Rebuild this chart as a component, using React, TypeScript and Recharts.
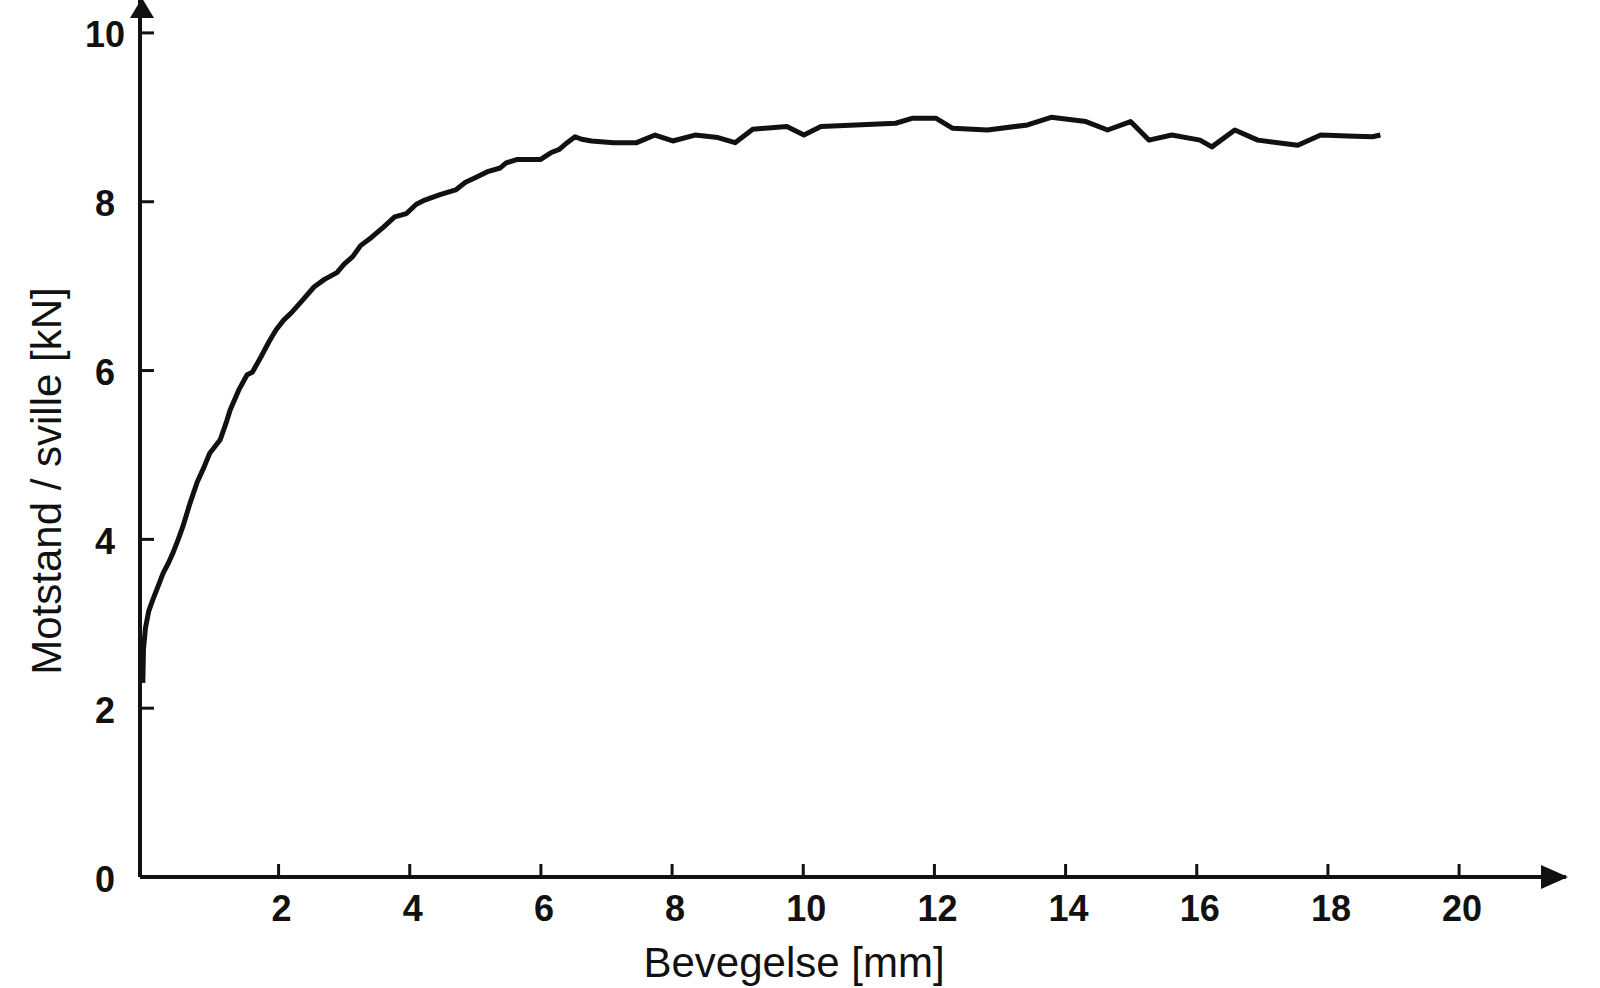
import React from "react";
import { LineChart, Line, XAxis, YAxis } from "recharts";

// Bevegelse [mm]
const displacement = [
  -0.07, -0.06, -0.03, 0.02, 0.08, 0.15, 0.24, 0.32, 0.39, 0.47, 0.54, 0.65, 0.76, 0.86, 0.95, 1.11, 1.2,
  1.26, 1.4, 1.52, 1.6, 1.73, 1.86, 1.96, 2.08, 2.19, 2.35, 2.54, 2.7, 2.89, 3.0, 3.13, 3.25,
  3.42, 3.6, 3.77, 3.95, 4.1, 4.23, 4.45, 4.7, 4.85, 4.99, 5.2, 5.38, 5.47, 5.63, 5.99, 6.15,
  6.28, 6.4, 6.52, 6.62, 6.77, 7.11, 7.46, 7.74, 8.01, 8.35, 8.7, 8.96, 9.23, 9.75, 10.01,
  10.27, 10.8, 11.41, 11.67, 12.02, 12.28, 12.81, 13.42, 13.78, 14.31, 14.64, 14.99, 15.27,
  15.62, 16.05, 16.23, 16.58, 16.93, 17.54, 17.89, 18.3, 18.68, 18.8,
];

// Motstand / sville [kN]
const resistance = [
  2.3, 2.7, 2.95, 3.15, 3.28, 3.42, 3.6, 3.72, 3.84, 4.0, 4.15, 4.43, 4.68, 4.85, 5.02, 5.18, 5.38,
  5.53, 5.78, 5.95, 5.98, 6.16, 6.35, 6.48, 6.6, 6.68, 6.82, 6.99, 7.08, 7.16, 7.26, 7.35, 7.48,
  7.58, 7.7, 7.82, 7.86, 7.97, 8.02, 8.08, 8.14, 8.23, 8.28, 8.36, 8.4, 8.46, 8.5, 8.5, 8.58,
  8.62, 8.7, 8.77, 8.74, 8.72, 8.7, 8.7, 8.79, 8.72, 8.79, 8.76, 8.7, 8.86, 8.89, 8.79,
  8.89, 8.91, 8.93, 8.99, 8.99, 8.87, 8.85, 8.91, 9.0, 8.95, 8.85, 8.95, 8.73,
  8.79, 8.73, 8.65, 8.85, 8.73, 8.67, 8.79, 8.78, 8.77, 8.79,
];

const xTicks = [2, 4, 6, 8, 10, 12, 14, 16, 18, 20];
const yTicks = [0, 2, 4, 6, 8, 10];

const data = displacement.map((x, i) => ({ x, y: resistance[i] }));

const INK = "#111";
const FONT = "'Liberation Sans', Arial, Helvetica, sans-serif";

function XTick({ x, y, payload }: any) {
  return (
    <g>
      <line x1={x} y1={y} x2={x} y2={y - 13} stroke={INK} strokeWidth={3} />
      <text
        x={x + 3}
        y={y + 31}
        textAnchor="middle"
        dominantBaseline="central"
        fontFamily={FONT}
        fontWeight="bold"
        fontSize={36}
        fill={INK}
      >
        {payload.value}
      </text>
    </g>
  );
}

function YTick({ x, y, payload }: any) {
  return (
    <g>
      {payload.value !== 0 && (
        <line x1={x} y1={y} x2={x + 14} y2={y} stroke={INK} strokeWidth={3} />
      )}
      <text
        x={x - 35}
        y={y + 2}
        textAnchor="middle"
        dominantBaseline="central"
        fontFamily={FONT}
        fontWeight="bold"
        fontSize={36}
        fill={INK}
      >
        {payload.value}
      </text>
    </g>
  );
}

function XTitle(props: any) {
  const vb = props.viewBox || { x: 140, y: 877, width: 1426, height: 111 };
  const end = vb.x + vb.width;
  return (
    <g>
      <polygon
        points={`${end + 2},${vb.y} ${end - 25},${vb.y - 12} ${end - 25},${vb.y + 12}`}
        fill={INK}
      />
      <text
        x={794}
        y={vb.y + 100}
        textAnchor="middle"
        fontFamily={FONT}
        fontSize={42}
        fill={INK}
      >
        Bevegelse [mm]
      </text>
    </g>
  );
}

function YTitle(props: any) {
  const vb = props.viewBox || { x: 0, y: 0, width: 140, height: 877 };
  const ax = vb.x + vb.width;
  return (
    <g>
      <polygon
        points={`${ax + 2},${vb.y - 2} ${ax - 10},${vb.y + 18} ${ax + 14},${vb.y + 18}`}
        fill={INK}
      />
      <text
        x={61}
        y={481}
        transform="rotate(-90, 61, 481)"
        textAnchor="middle"
        fontFamily={FONT}
        fontSize={42}
        fill={INK}
      >
        Motstand / sville [kN]
      </text>
    </g>
  );
}

export default function App() {
  return (
    <div
      style={{
        position: "absolute",
        left: 0,
        top: 0,
        width: 1600,
        height: 988,
        background: "#fff",
      }}
    >
      <LineChart
        width={1600}
        height={988}
        data={data}
        margin={{ top: 0, right: 34, bottom: 0, left: 0 }}
      >
        <XAxis
          dataKey="x"
          type="number"
          domain={[-0.113, 21.63]}
          allowDataOverflow
          ticks={xTicks}
          tick={<XTick />}
          tickSize={0}
          tickMargin={0}
          tickLine={false}
          height={111}
          axisLine={{ stroke: INK, strokeWidth: 4 }}
          label={<XTitle />}
        />
        <YAxis
          dataKey="y"
          type="number"
          domain={[0, 10.39]}
          allowDataOverflow
          ticks={yTicks}
          tick={<YTick />}
          tickSize={0}
          tickMargin={0}
          tickLine={false}
          width={140}
          axisLine={{ stroke: INK, strokeWidth: 4 }}
          label={<YTitle />}
        />
        <Line
          dataKey="y"
          type="linear"
          stroke={INK}
          strokeWidth={5}
          strokeLinejoin="round"
          dot={false}
          isAnimationActive={false}
        />
      </LineChart>
    </div>
  );
}
